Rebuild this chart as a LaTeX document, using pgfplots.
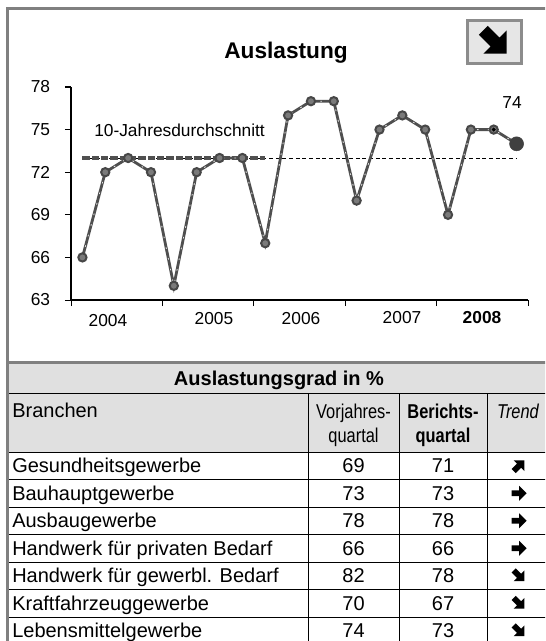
\documentclass[border=0pt]{standalone}
\usepackage{pgfplots}
\pgfplotsset{compat=1.18}
\usepackage{fontspec}
\setmainfont{Liberation Sans}
\newfontfamily\narrow[FakeStretch=0.82]{Liberation Sans}
\definecolor{framegray}{HTML}{808080}
\definecolor{panel}{HTML}{E0E0E0}
\definecolor{btnfill}{HTML}{E6E6E6}
\definecolor{btnborder}{HTML}{8C8C8C}
\definecolor{linegray}{HTML}{4F4F4F}
\definecolor{markfill}{HTML}{7A7A7A}
\definecolor{markdraw}{HTML}{474747}
\definecolor{bigmark}{HTML}{404040}
\definecolor{refgray}{HTML}{505050}
\newcommand{\fs}[1]{\fontsize{#1}{#1}\selectfont}
\newcommand{\harrow}[4]{%
  \fill[black, shift={(#1,#2)}, rotate=#3, scale=#4]
    (-0.5,0.19) -- (0.0,0.19) -- (0.0,0.5) -- (0.5,0) -- (0.0,-0.5) -- (0.0,-0.19) -- (-0.5,-0.19) -- cycle;}
\begin{document}
\begin{tikzpicture}
\useasboundingbox (0,0) rectangle (408.75pt,-480.75pt);
\begin{scope}
\clip (0,0) rectangle (408.75pt,-480.75pt);
\begin{scope}[x=0.75pt,y=-0.75pt]
  \fill[white] (0,0) rectangle (560,700);
  \fill[panel] (7,363) rectangle (556,452);
  % table grid
  \foreach \yy in {393,452,479.5,507,534.5,562,589.5,617,644.5}
    \draw[black, line width=0.75pt] (8,\yy) -- (556,\yy);
  \foreach \xx in {308,399,487}
    \draw[black, line width=0.75pt] (\xx,393) -- (\xx,700);
  % frame and separator
  \draw[framegray, line width=2.25pt] (7,362.5) -- (556,362.5);
  \draw[framegray, line width=2.25pt] (7,9) rectangle (556,720);
  % title and button
  \node[anchor=base, inner sep=0pt] at (286,59) {\fs{17}\bfseries Auslastung};
  \filldraw[fill=btnfill, draw=btnborder, line width=2.25pt] (467.5,20.5) rectangle (521.5,63.5);
  \harrow{495}{42}{-45}{33}
  % chart texts
  \node[anchor=base west, inner sep=0pt] at (94,137) {\fs{13}10-Jahresdurchschnitt};
  \node[anchor=base, inner sep=0pt] at (512,109) {\fs{13}74};
  \node[anchor=base, inner sep=0pt] at (108,326) {\fs{13}2004};
  \node[anchor=base, inner sep=0pt] at (214,324) {\fs{13}2005};
  \node[anchor=base, inner sep=0pt] at (301,324) {\fs{13}2006};
  \node[anchor=base, inner sep=0pt] at (402,323) {\fs{13}2007};
  \node[anchor=base, inner sep=0pt] at (482,323) {\fs{13}\bfseries 2008};
  % table header
  \node[anchor=base, inner sep=0pt] at (279,385.5) {\fs{15}\bfseries Auslastungsgrad in \%};
  \node[anchor=base west, inner sep=0pt] at (12,417) {\fs{15}Branchen};
  \node[anchor=base, inner sep=0pt] at (353.5,418) {\narrow\fs{15}Vorjahres-};
  \node[anchor=base, inner sep=0pt] at (353.5,442) {\narrow\fs{15}quartal};
  \node[anchor=base, inner sep=0pt] at (443,418) {\narrow\bfseries\fs{15}Berichts-};
  \node[anchor=base, inner sep=0pt] at (443,442) {\narrow\bfseries\fs{15}quartal};
  \node[anchor=base, inner sep=0pt] at (518,418) {\narrow\itshape\fs{15}Trend};
  % table rows
  \foreach \name/\va/\vb/\ang [count=\i from 0] in {
      Gesundheitsgewerbe/69/71/45,
      Bauhauptgewerbe/73/73/0,
      Ausbaugewerbe/78/78/0,
      Handwerk für privaten Bedarf/66/66/0,
      Handwerk für gewerbl. Bedarf/82/78/-45,
      Kraftfahrzeuggewerbe/70/67/-45,
      Lebensmittelgewerbe/74/73/-45} {
    \pgfmathsetmacro\yb{452+27.5*\i+20.5}
    \pgfmathsetmacro\yc{452+27.5*\i+13.75}
    \node[anchor=base west, inner sep=0pt] at (12,\yb) {\fs{15}\name};
    \node[anchor=base, inner sep=0pt] at (353.5,\yb) {\fs{15}\va};
    \node[anchor=base, inner sep=0pt] at (443,\yb) {\fs{15}\vb};
    \harrow{519}{\yc}{\ang}{15}
  }
\end{scope}
\begin{axis}[
  at={(53.25pt,-225pt)}, anchor=south west,
  scale only axis, width=342.75pt, height=159.75pt,
  xmin=0, xmax=20, ymin=63, ymax=78,
  axis x line*=bottom, axis y line*=left,
  ytick={63,66,69,72,75,78},
  xtick={0,4,8,12,16,20}, xticklabel=\empty,
  tick align=outside, major tick length=4.5pt,
  tick style={black, line width=0.75pt},
  axis line style={black, line width=1.1pt},
  yticklabel style={font=\fs{13}, inner sep=0pt, xshift=-11pt},
  /pgf/number format/assume math mode=true,
  clip=false,
]
\addplot[black, line width=0.55pt, dash pattern=on 3pt off 2pt] coordinates {(0.5,73) (19.5,73)};
\addplot[refgray, line width=2.4pt, dash pattern=on 5.5pt off 1.5pt] coordinates {(0.5,73) (8.5,73)};
\addplot[linegray, line width=2.1pt] coordinates {
(0.5,66) (1.5,72) (2.5,73) (3.5,72) (4.5,64) (5.5,72) (6.5,73) (7.5,73) (8.5,67) (9.5,76)
(10.5,77) (11.5,77) (12.5,70) (13.5,75) (14.5,76) (15.5,75) (16.5,69) (17.5,75) (18.5,75) (19.5,74)};
\addplot[white!80!gray, line width=0.6pt, dash pattern=on 1.2pt off 7pt] coordinates {
(0.5,66) (1.5,72) (2.5,73) (3.5,72) (4.5,64) (5.5,72) (6.5,73) (7.5,73) (8.5,67) (9.5,76)
(10.5,77) (11.5,77) (12.5,70) (13.5,75) (14.5,76) (15.5,75) (16.5,69) (17.5,75) (18.5,75) (19.5,74)};
\addplot[only marks, mark=*, mark size=3.1pt, mark options={fill=markfill, draw=markdraw, line width=1.5pt}] coordinates {
(0.5,66) (1.5,72) (2.5,73) (3.5,72) (4.5,64) (5.5,72) (6.5,73) (7.5,73) (8.5,67) (9.5,76)
(10.5,77) (11.5,77) (12.5,70) (13.5,75) (14.5,76) (15.5,75) (16.5,69) (17.5,75) (18.5,75)};
\addplot[only marks, mark=*, mark size=1.3pt, mark options={fill=black, draw=black}] coordinates {(18.5,75)};
\addplot[only marks, mark=*, mark size=5.25pt, mark options={fill=bigmark, draw=bigmark}] coordinates {(19.5,74)};
\end{axis}
\end{scope}
\end{tikzpicture}
\end{document}
